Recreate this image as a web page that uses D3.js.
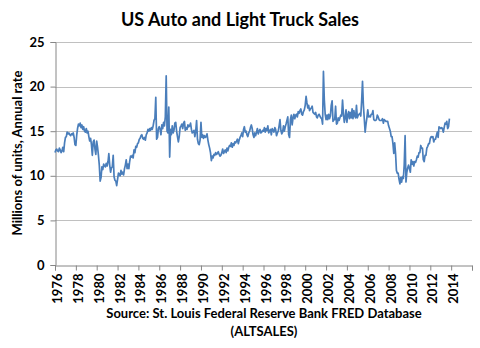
<!DOCTYPE html>
<html>
<head>
<meta charset="utf-8">
<script src="https://cdn.jsdelivr.net/npm/d3@7"></script>
<style>
  body { margin: 0; background: #fff; }
  text { font-family: Lato, "Open Sans", sans-serif; font-weight: bold; fill: #000; }
</style>
</head>
<body>
<svg id="chart" width="480" height="348"></svg>
<script>
// monthly sales, millions of units (annual rate), Jan 1976 .. Nov 2013
var startYear = 1976;
var sales = [
  12.6, 12.9, 13.0, 12.8, 12.7, 13.1, 12.9, 12.6, 12.8, 13.2, 12.7, 13.7, // 1976
  14.3, 14.4, 14.9, 14.7, 14.8, 14.6, 14.5, 14.7, 14.6, 14.8, 14.3, 13.5, // 1977
  13.4, 14.6, 15.3, 15.8, 15.6, 15.9, 15.4, 15.7, 15.2, 15.5, 15.0, 14.9, // 1978
  15.3, 14.8, 15.0, 14.4, 13.9, 14.2, 13.5, 12.3, 13.8, 14.0, 13.0, 12.4, // 1979
  13.9, 13.2, 12.3, 11.2, 9.4, 9.8, 11.0, 10.7, 11.3, 11.1, 11.0, 11.4,   // 1980
  11.1, 11.6, 12.5, 11.2, 10.4, 10.9, 11.0, 12.3, 9.9, 9.5, 9.4, 8.9,     // 1981
  9.6, 10.3, 10.2, 10.0, 10.6, 10.2, 10.4, 10.1, 10.8, 11.2, 11.8, 10.8,  // 1982
  11.3, 10.8, 11.6, 12.2, 12.1, 12.3, 12.0, 12.9, 12.6, 13.3, 13.2, 13.6, // 1983
  13.7, 14.1, 14.2, 14.5, 14.6, 14.2, 14.1, 14.3, 14.0, 14.6, 14.8, 15.2, // 1984
  15.0, 15.3, 15.1, 15.4, 15.2, 15.6, 16.2, 16.4, 18.8, 14.1, 14.3, 15.3, // 1985
  15.5, 15.2, 14.6, 15.7, 15.3, 16.0, 15.6, 16.6, 21.2, 15.0, 14.8, 17.7, // 1986
  12.1, 15.2, 14.6, 15.6, 14.8, 15.1, 15.9, 16.0, 15.0, 14.4, 13.8, 14.4, // 1987
  15.4, 15.6, 15.8, 15.3, 15.9, 16.1, 15.1, 15.4, 15.2, 15.7, 15.5, 15.6, // 1988
  15.9, 15.2, 14.8, 14.9, 15.1, 14.4, 15.0, 16.2, 14.1, 13.6, 13.5, 14.0, // 1989
  16.0, 14.3, 14.6, 14.2, 14.5, 14.3, 14.4, 14.7, 14.0, 13.5, 13.1, 12.6, // 1990
  11.7, 12.2, 12.0, 12.4, 12.3, 12.6, 12.4, 12.5, 12.7, 12.4, 12.2, 12.3, // 1991
  12.6, 13.0, 12.5, 12.7, 12.9, 12.6, 13.1, 12.8, 13.2, 13.4, 13.3, 13.7, // 1992
  13.2, 13.6, 13.4, 13.8, 13.7, 13.9, 14.1, 13.6, 14.0, 14.3, 14.5, 14.8, // 1993
  14.4, 15.2, 15.5, 14.9, 15.0, 14.6, 14.4, 14.8, 15.0, 15.4, 15.7, 15.3, // 1994
  14.6, 14.3, 14.8, 14.5, 14.9, 15.3, 14.7, 15.0, 15.2, 14.8, 14.9, 15.1, // 1995
  15.0, 15.4, 14.9, 15.3, 15.1, 15.6, 14.8, 15.0, 15.2, 14.6, 15.3, 15.1, // 1996
  14.9, 15.4, 15.2, 14.5, 14.8, 15.0, 15.6, 16.3, 15.1, 14.7, 14.9, 15.6, // 1997
  15.0, 15.5, 15.8, 16.2, 16.6, 14.6, 14.3, 16.3, 16.8, 15.7, 16.5, 16.9, // 1998
  16.4, 16.8, 16.9, 16.6, 17.2, 17.0, 17.3, 17.5, 16.9, 16.8, 17.2, 17.4, // 1999
  17.9, 18.9, 18.2, 17.6, 17.9, 17.3, 17.5, 17.6, 17.8, 17.1, 17.0, 16.9, // 2000
  17.1, 16.6, 16.5, 16.8, 16.9, 16.7, 16.5, 16.4, 15.8, 21.7, 18.5, 16.9, // 2001
  16.3, 16.8, 16.3, 16.9, 16.4, 16.7, 17.9, 18.4, 16.1, 16.3, 16.3, 17.8, // 2002
  15.8, 15.9, 16.5, 16.2, 16.5, 16.8, 16.7, 18.5, 17.0, 16.0, 16.5, 17.4, // 2003
  16.0, 16.8, 17.2, 16.4, 17.1, 16.5, 17.5, 16.4, 17.3, 16.7, 16.5, 17.9, // 2004
  16.5, 16.8, 16.9, 17.0, 16.7, 18.4, 20.6, 17.9, 16.4, 14.9, 15.8, 16.5, // 2005
  17.4, 16.6, 16.7, 16.6, 16.9, 16.9, 17.3, 16.3, 16.2, 16.2, 16.3, 16.8, // 2006
  16.6, 16.3, 16.2, 16.2, 16.2, 16.4, 15.9, 16.3, 16.2, 16.1, 16.1, 16.1, // 2007
  15.6, 15.3, 15.0, 14.4, 14.4, 13.6, 12.5, 13.7, 12.5, 10.6, 10.3, 10.3, // 2008
  9.6, 9.1, 9.8, 9.3, 9.9, 9.7, 11.2, 14.5, 9.3, 10.4, 10.9, 11.2,        // 2009
  10.8, 10.4, 11.8, 11.3, 11.6, 11.1, 11.6, 11.5, 11.8, 12.2, 12.1, 12.6, // 2010
  12.6, 13.4, 13.1, 13.1, 11.8, 11.6, 12.3, 12.3, 13.1, 13.3, 13.6, 13.6, // 2011
  14.2, 14.4, 14.3, 14.4, 13.8, 14.1, 14.1, 14.5, 14.9, 14.3, 15.5, 15.4, // 2012
  15.3, 15.4, 15.3, 14.9, 15.4, 15.9, 15.8, 16.1, 15.3, 15.5, 16.4        // 2013
];
var yTicks = [0, 5, 10, 15, 20, 25];
var xTickYears = [1976, 1978, 1980, 1982, 1984, 1986, 1988, 1990, 1992, 1994, 1996,
  1998, 2000, 2002, 2004, 2006, 2008, 2010, 2012, 2014];
var titleText = 'US Auto and Light Truck Sales';
var yAxisTitle = 'Millions of units, Annual rate';
var sourceLines = ['Source:  St. Louis Federal Reserve Bank FRED Database', '(ALTSALES)'];

var points = sales.map(function(v, i) {
  return { date: new Date(startYear + Math.floor(i / 12), i % 12, 1), value: v };
});

var plotLeft = 55, plotRight = 472, plotTop = 42, plotBottom = 265;

var x = d3.scaleTime()
  .domain([new Date(1976, 0, 1), new Date(2016, 0, 1)])
  .range([plotLeft, plotRight]);
var y = d3.scaleLinear()
  .domain([0, 25])
  .range([plotBottom, plotTop]);

var svg = d3.select('#chart');

// gridlines
svg.append('g')
  .selectAll('line')
  .data(yTicks.filter(function(d) { return d > 0; }))
  .enter().append('line')
    .attr('x1', plotLeft)
    .attr('x2', plotRight)
    .attr('y1', function(d) { return Math.round(y(d)) + 0.5; })
    .attr('y2', function(d) { return Math.round(y(d)) + 0.5; })
    .attr('stroke', '#c0c0c0')
    .attr('stroke-width', 1);

// y axis
var yAxis = svg.append('g')
  .attr('transform', 'translate(' + (plotLeft + 0.5) + ',0)')
  .call(d3.axisLeft(y).tickValues(yTicks).tickSize(5).tickPadding(6));
yAxis.select('.domain').attr('stroke', '#868686');
yAxis.selectAll('.tick line').attr('stroke', '#868686');
yAxis.selectAll('.tick text')
  .attr('font-size', 13)
  .attr('font-family', 'Lato, sans-serif')
  .attr('font-weight', 'bold')
  .attr('fill', '#000');

// x axis
var xAxis = svg.append('g')
  .attr('transform', 'translate(0,' + (plotBottom + 0.5) + ')')
  .call(d3.axisBottom(x)
    .tickValues(xTickYears.concat([2016]).map(function(yr) { return new Date(yr, 0, 1); }))
    .tickSize(5)
    .tickFormat(function(d) { return d.getFullYear() < 2016 ? d3.timeFormat('%Y')(d) : ''; }));
xAxis.select('.domain').attr('stroke', '#868686');
xAxis.selectAll('.tick line').attr('stroke', '#868686');
xAxis.selectAll('.tick text')
  .attr('font-size', 13)
  .attr('font-family', 'Lato, sans-serif')
  .attr('font-weight', 'bold')
  .attr('fill', '#000')
  .attr('text-anchor', 'end')
  .attr('transform', 'rotate(-90)')
  .attr('x', -8)
  .attr('y', 2)
  .attr('dy', '0.35em');

// series
svg.append('path')
  .datum(points)
  .attr('fill', 'none')
  .attr('stroke', '#4a7ebb')
  .attr('stroke-width', 1.7)
  .attr('stroke-linejoin', 'round')
  .attr('d', d3.line()
    .x(function(d) { return x(d.date); })
    .y(function(d) { return y(d.value); }));

// titles
svg.append('text')
  .attr('x', 240)
  .attr('y', 26)
  .attr('text-anchor', 'middle')
  .attr('font-size', 18)
  .text(titleText);

svg.append('text')
  .attr('transform', 'translate(22,153) rotate(-90)')
  .attr('text-anchor', 'middle')
  .attr('font-size', 13)
  .text(yAxisTitle);

svg.append('g')
  .selectAll('text')
  .data(sourceLines)
  .enter().append('text')
    .attr('x', 264)
    .attr('y', function(d, i) { return 318 + i * 18; })
    .attr('text-anchor', 'middle')
    .attr('font-size', 13)
    .text(function(d) { return d; });
</script>
</body>
</html>
